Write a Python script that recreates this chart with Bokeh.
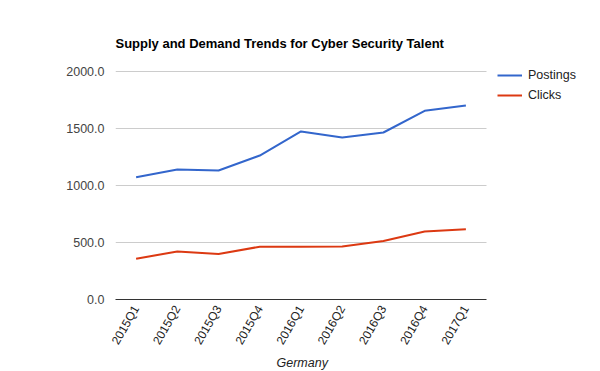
from bokeh.plotting import figure
from bokeh.models import (Range1d, FixedTicker, PrintfTickFormatter,
                          Legend, LegendItem, Title)
from bokeh.embed import file_html
from bokeh.resources import INLINE
from math import pi

quarters = ["2015Q1", "2015Q2", "2015Q3", "2015Q4", "2016Q1",
            "2016Q2", "2016Q3", "2016Q4", "2017Q1"]
postings = [1072, 1140, 1132, 1263, 1474, 1421, 1465, 1655, 1702]
clicks = [358, 421, 400, 463, 462, 465, 514, 596, 616]
y_ticks = [0, 500, 1000, 1500, 2000]

FONT = "Liberation Sans"

# layout constants (pixels)
W, H = 600, 371
LEFT, TOP, BOTTOM = 115, 61, 72
DATA_W, DATA_H = 371, 228          # width of category area, height of 0..2000

xs = list(range(len(quarters)))
n = len(quarters)
frame_w = W - LEFT
frame_h = H - TOP - BOTTOM
x_end = -0.5 + frame_w * n / DATA_W
y_end = max(y_ticks) * frame_h / DATA_H

p = figure(width=W, height=H, x_range=Range1d(-0.5, x_end),
           y_range=Range1d(0, y_end), output_backend="svg",
           toolbar_location=None, tools="",
           min_border_left=LEFT, min_border_right=0,
           min_border_top=TOP, min_border_bottom=BOTTOM)

p.title.text = "Supply and Demand Trends for Cyber Security Talent"
p.title.text_font = FONT
p.title.text_font_size = "13px"
p.title.text_font_style = "bold"
p.title.text_color = "#000000"
p.title.align = "left"
p.title.standoff = 21

p.outline_line_color = None
p.background_fill_color = "white"
p.border_fill_color = "white"

# y axis
p.yaxis.ticker = FixedTicker(ticks=y_ticks)
p.yaxis.formatter = PrintfTickFormatter(format="%.1f")
p.yaxis.axis_line_color = None
p.yaxis.major_tick_line_color = None
p.yaxis.minor_tick_line_color = None
p.yaxis.major_tick_out = 0
p.yaxis.major_label_standoff = 11
p.yaxis.major_label_text_font = FONT
p.yaxis.major_label_text_font_size = "12.5px"
p.yaxis.major_label_text_color = "#444444"

p.xgrid.grid_line_color = None
p.ygrid.ticker = FixedTicker(ticks=y_ticks)
try:
    p.ygrid.cross_bounds = (-0.5, n - 0.5)
    p.ygrid.grid_line_color = "#cccccc"
except Exception:
    p.ygrid.grid_line_color = None
    p.segment(x0=[-0.5] * len(y_ticks), x1=[n - 0.5] * len(y_ticks),
              y0=y_ticks, y1=y_ticks, line_color="#cccccc", line_width=1)

# x axis
p.xaxis.ticker = FixedTicker(ticks=xs)
p.xaxis.major_label_overrides = {i: q for i, q in zip(xs, quarters)}
p.xaxis.bounds = (-0.5, n - 0.5)
p.xaxis.axis_line_color = "#333333"
p.xaxis.axis_line_width = 1
p.xaxis.major_tick_line_color = None
p.xaxis.minor_tick_line_color = None
p.xaxis.major_tick_out = 0
p.xaxis.major_label_orientation = pi / 3
p.xaxis.major_label_standoff = 7
p.xaxis.major_label_text_font = FONT
p.xaxis.major_label_text_font_size = "12px"
p.xaxis.major_label_text_color = "#222222"

# x-axis title, centred under the category area
x_title = Title(text="Germany", align="left", offset=161, standoff=0,
                text_font=FONT, text_font_size="12.5px",
                text_font_style="italic", text_color="#222222")
p.add_layout(x_title, "below")

r1 = p.line(xs, postings, line_color="#3366cc", line_width=2)
r2 = p.line(xs, clicks, line_color="#dc3912", line_width=2)

legend = Legend(items=[LegendItem(label="Postings", renderers=[r1]),
                       LegendItem(label="Clicks", renderers=[r2])],
                location=(382, 197))
legend.border_line_color = None
legend.background_fill_alpha = 0
legend.padding = 0
legend.margin = 0
legend.spacing = 6
legend.glyph_width = 25
legend.glyph_height = 14
legend.label_height = 14
legend.label_standoff = 6
legend.label_text_font = FONT
legend.label_text_font_size = "12.5px"
legend.label_text_color = "#222222"
p.add_layout(legend, "center")

open("out.html", "w").write(file_html(p, INLINE))
